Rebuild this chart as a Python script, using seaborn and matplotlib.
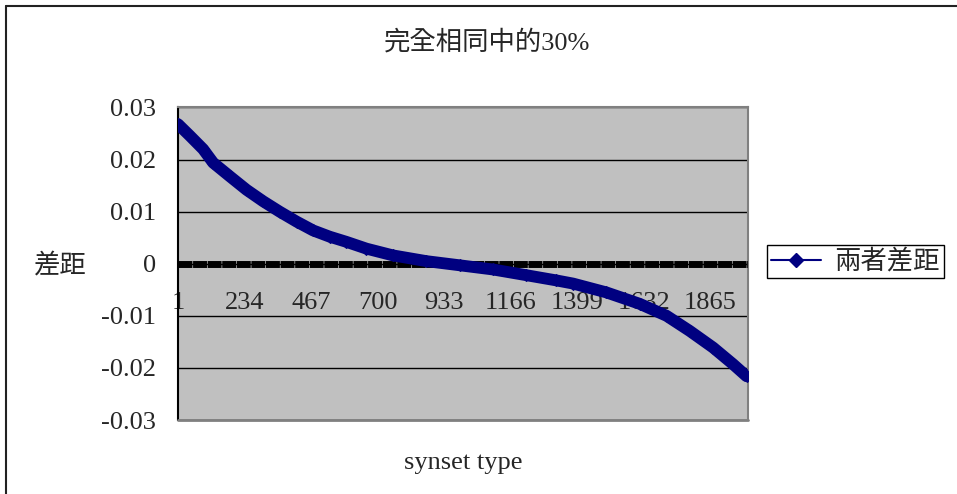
import pandas as pd
import seaborn as sns
import matplotlib.pyplot as plt
from matplotlib.lines import Line2D

# values (synset index -> difference)
synset_idx = [1, 42, 89, 124, 182, 241, 299, 357, 416, 474, 532, 591, 661,
              754, 871, 988, 1104, 1221, 1326, 1384, 1501, 1618, 1712,
              1793, 1875, 1945, 1992]
gap = [0.0268, 0.0246, 0.0220, 0.0194, 0.0168, 0.0142, 0.0120, 0.0100,
       0.0081, 0.0064, 0.0052, 0.0042, 0.0029, 0.0016, 0.0005, -0.0003,
       -0.0011, -0.0022, -0.0032, -0.0038, -0.0055, -0.0077, -0.0100,
       -0.0129, -0.0161, -0.0193, -0.0216]
x_ticks = [1, 234, 467, 700, 933, 1166, 1399, 1632, 1865]
y_ticks = [0.03, 0.02, 0.01, 0, -0.01, -0.02, -0.03]
n_synsets = 1997

title = '完全相同中的30%'
series_name = '兩者差距'
y_name = '差距'
x_name = 'synset type'

sns.set_style("white")
plt.rcParams['font.family'] = ['Liberation Serif', 'Noto Sans CJK TC']
plt.rcParams['axes.unicode_minus'] = False

navy = '#000080'
fs = 19

fig = plt.figure(figsize=(9.57, 4.94), dpi=100)
ax = fig.add_axes([178 / 957, 1 - 420 / 494, 570 / 957, 312.5 / 494])
ax.set_facecolor('#c0c0c0')

df = pd.DataFrame({'synset': synset_idx, 'gap': gap})
sns.lineplot(data=df, x='synset', y='gap', ax=ax, color=navy, lw=8.5,
             marker='D', ms=6, mec=navy, legend=False, zorder=4,
             solid_joinstyle='round', solid_capstyle='round')

ax.set_xlim(1, n_synsets)
ax.set_ylim(-0.03, 0.03)
ax.set_xticks(x_ticks)
ax.set_xticklabels([str(t) for t in x_ticks])
ax.set_yticks(y_ticks)
ax.set_yticklabels([f'{v:g}' for v in y_ticks])
ax.set_xlabel('')
ax.set_ylabel('')

# gridlines + the category axis sitting at zero (dense tick marks -> dashed band)
ax.yaxis.grid(True, color='black', lw=1)
ax.set_axisbelow(True)
ax.axhline(0, color='black', lw=5, linestyle=(0, (2.0, 0.1)), zorder=3)

ax.spines['bottom'].set_position(('data', 0))
ax.spines['bottom'].set_color('none')
ax.spines['left'].set_color('black')
ax.spines['left'].set_linewidth(1.5)
for s in ['top', 'right']:
    ax.spines[s].set_color('#808080')
    ax.spines[s].set_linewidth(1.5)
ax.plot([0, 1], [0, 0], transform=ax.transAxes, color='#808080', lw=2,
        clip_on=False, zorder=5)

ax.tick_params(axis='y', direction='in', length=6, color='black', pad=16,
               labelsize=fs)
ax.tick_params(axis='x', length=0, pad=20, labelsize=fs)

fig.text(487 / 957, 1 - 42 / 494, title, ha='center', va='center', fontsize=fs)
fig.text(463 / 957, 1 - 463 / 494, x_name, ha='center', va='center', fontsize=fs)
fig.text(60 / 957, 1 - 265 / 494, y_name, ha='center', va='center', fontsize=fs)

handle = Line2D([], [], color=navy, lw=1.5, marker='D', ms=7)
leg = fig.legend(handles=[handle], labels=[series_name], loc='upper left',
                 bbox_to_anchor=(767 / 957, 1 - 245 / 494), fontsize=fs,
                 frameon=True, fancybox=False, framealpha=1, edgecolor='black',
                 borderpad=0.15, handlelength=1.9, handletextpad=0.5,
                 borderaxespad=0)
leg.get_frame().set_linewidth(1)

# outer chart frame (only top and left visible in the crop)
fig.add_artist(Line2D([6 / 957, 1], [1 - 6.5 / 494] * 2, transform=fig.transFigure,
                      color='#222222', lw=1.5))
fig.add_artist(Line2D([6 / 957] * 2, [0, 1 - 6.5 / 494], transform=fig.transFigure,
                      color='#222222', lw=1.5))

fig.savefig('out.png', dpi=100)
